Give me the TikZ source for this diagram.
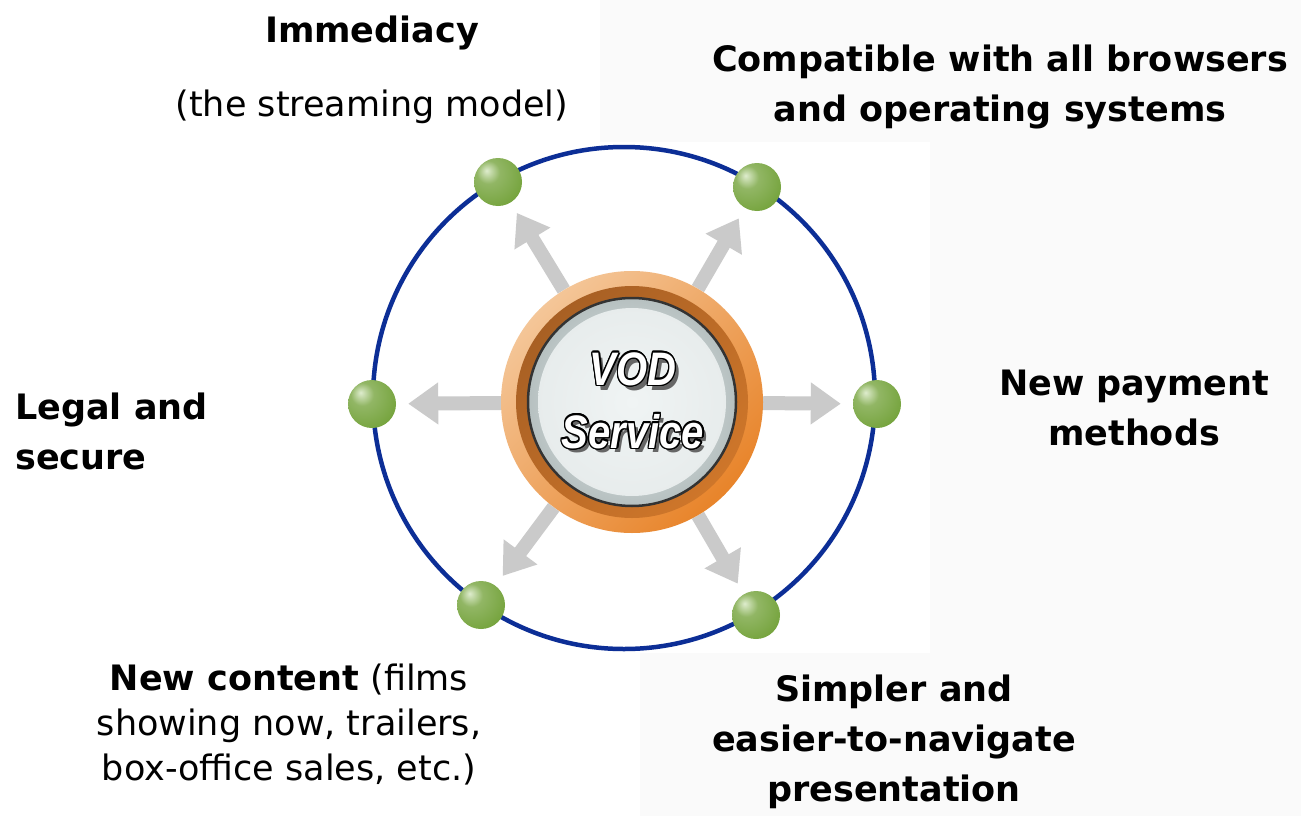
\documentclass[tikz,border=0pt]{standalone}
\usepackage{fontspec}
\setmainfont{DejaVu Sans}
\newfontfamily\vodfont{Liberation Sans}
\usepackage[copies]{contour}
\usetikzlibrary{arrows.meta,backgrounds,positioning}
\tikzset{>=stealth}
\contourlength{1.6pt}
\definecolor{orbit}{RGB}{12,46,150}
\definecolor{ballgreen}{RGB}{118,164,62}
\definecolor{balllight}{RGB}{222,236,205}
\definecolor{balldark}{RGB}{100,142,50}
\definecolor{flowgray}{RGB}{202,202,202}
\definecolor{ringlight}{RGB}{244,198,152}
\definecolor{ringorange}{RGB}{232,132,42}
\definecolor{ringbrown}{RGB}{168,96,36}
\definecolor{ringmid}{RGB}{206,118,42}
\definecolor{disclight}{RGB}{240,244,244}
\definecolor{discgray}{RGB}{182,192,192}
\pgfdeclareradialshading{greenball}{\pgfpoint{-12bp}{12bp}}{%
  color(0bp)=(balllight); color(12bp)=(ballgreen!80!white);
  color(34bp)=(ballgreen); color(62bp)=(balldark); color(80bp)=(balldark)}
\tikzset{
  ball/.style={circle, minimum size=48pt, inner sep=0pt, shading=greenball},
  flow/.style={draw=flowgray, line width=14pt,
    -{Triangle[width=40pt,length=30pt]}, shorten >=12pt},
  head/.style={font=\fontsize{35}{50}\selectfont\bfseries, align=center, inner sep=0pt},
  plain/.style={font=\fontsize{35}{45}\selectfont, align=center, inner sep=0pt},
  vod/.style={font=\vodfont\fontsize{47}{50}\selectfont\bfseries\itshape, inner sep=0pt}
}

\begin{document}
\begin{tikzpicture}[x=1pt,y=-1pt]
  \useasboundingbox (0,0) rectangle (1301,816);

  \node[circle, minimum size=262pt, inner sep=0pt] (hub) at (632,402) {};
  \node[ball] (immed) at (498,182) {};
  \node[ball] (compat) at (757,187) {};
  \node[ball] (legal) at (372,404) {};
  \node[ball] (pay) at (877,404) {};
  \node[ball] (content) at (481,605) {};
  \node[ball] (simple) at (756,615) {};

  \begin{scope}[on background layer]
    \fill[black!2] (0,0) rectangle (1301,816);
    \fill[white] (0,0) -- (600,0) -- (600,142) -- (930,142) -- (930,653)
       -- (640,653) -- (640,816) -- (0,816) -- cycle;
    \draw[orbit, line width=4.5pt] (624,398) circle (251);
    \foreach \b in {immed,compat,legal,pay,content,simple}
      \draw[flow] (hub) -- (\b);
  \end{scope}

  % the hub
  \shade[left color=ringlight, right color=ringorange, shading angle=45]
    (hub.center) circle (131);
  \shade[left color=ringbrown, right color=ringmid, shading angle=45]
    (hub.center) circle (116);
  \shade[inner color=disclight, outer color=discgray, draw=black!80, line width=2.5pt]
    (hub.center) circle (104);
  \shade[inner color=disclight, outer color=disclight!85!discgray]
    (hub.center) circle (94);

  \node[vod, text=black!60, xshift=4pt, yshift=-4pt] at (633,370)
    {\scalebox{0.85}[1]{VOD}};
  \node[vod, text=white] (vodtext) at (633,370)
    {\scalebox{0.85}[1]{\contour{black}{VOD}}};
  \node[vod, text=black!60, xshift=4pt, yshift=-4pt] at (633,432)
    {\scalebox{0.85}[1]{Service}};
  \node[vod, text=white] (servtext) at (633,432)
    {\scalebox{0.85}[1]{\contour{black}{Service}}};

  % labels
  \node[head] (immedlbl) at (372,33) {Immediacy};
  \node[plain] (streamlbl) at (372,107) {(the streaming model)};
  \node[head] (compatlbl) at (1000,87) {Compatible with all browsers\\and operating systems};
  \node[head] (paylbl) at (1134,408) {New payment\\methods};
  \node[head, align=left, anchor=west] (legallbl) at (15,431) {Legal and\\secure};
  \node[plain] (contentlbl) at (289,725)
    {{\bfseries New content} (films\\showing now, trailers,\\box-office sales, etc.)};
  \node[head] (simplelbl) at (894,742) {Simpler and\\easier-to-navigate\\presentation};
\end{tikzpicture}
\end{document}
